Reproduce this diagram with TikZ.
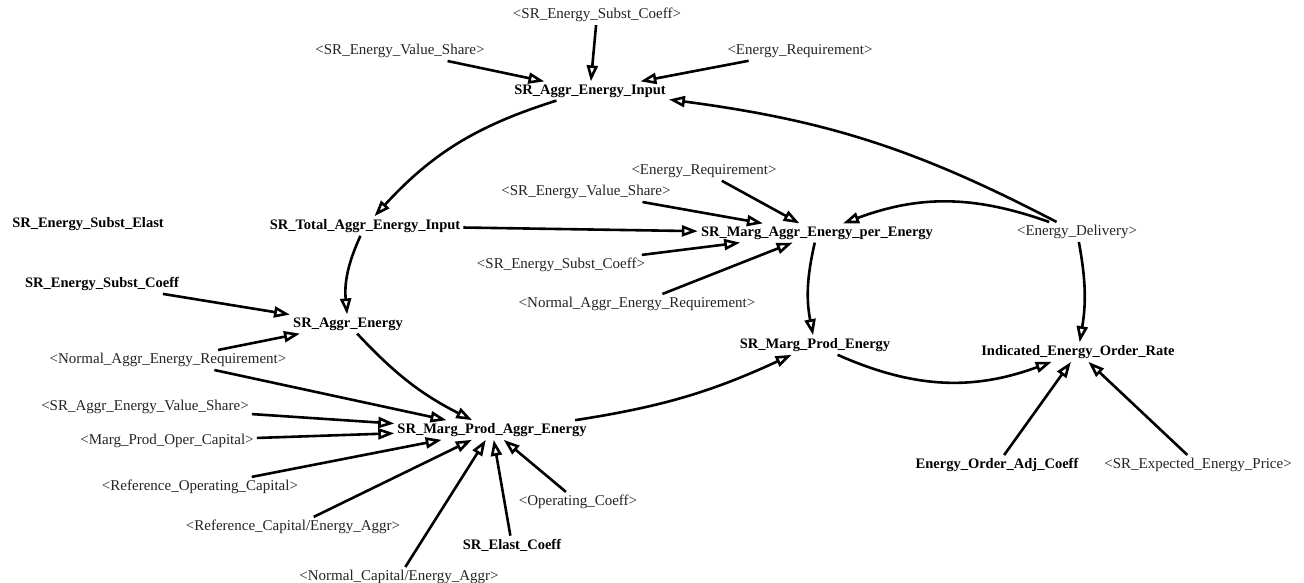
\documentclass[tikz,border=0pt]{standalone}
\usepackage{fontspec}
\setmainfont{Liberation Serif}
\usepackage{tikz}
\usetikzlibrary{arrows.meta}
\definecolor{shadowgray}{RGB}{35,35,35}

\begin{document}
\begin{tikzpicture}[x=1pt, y=-1pt,
    var/.style={font=\fontsize{14.5}{16}\selectfont\bfseries, inner sep=3pt},
    shadow/.style={font=\fontsize{15}{16}\selectfont, text=shadowgray, inner sep=3pt},
    link/.style={line width=2.6pt, -{Triangle[open, length=16pt, width=11pt]}}]
  \useasboundingbox (0,0) rectangle (1304,583);
  % ---- top: aggregate energy input ----
  \node[shadow] (substtop)  at (597,15) {<SR\_Energy\_Subst\_Coeff>};
  \node[shadow] (vsharetop) at (400,51) {<SR\_Energy\_Value\_Share>};
  \node[shadow] (ereqtop)   at (800,51) {<Energy\_Requirement>};
  \node[var]    (aggrinput) at (590,91) {SR\_Aggr\_Energy\_Input};
  % ---- middle band ----
  \node[var]    (elast)      at (88,224)  {SR\_Energy\_Subst\_Elast};
  \node[var]    (totalinput) at (365,226) {SR\_Total\_Aggr\_Energy\_Input};
  \node[shadow] (ereqmid)    at (704,171) {<Energy\_Requirement>};
  \node[shadow] (vsharemid)  at (586,192) {<SR\_Energy\_Value\_Share>};
  \node[var]    (margaggr)   at (817,233) {SR\_Marg\_Aggr\_Energy\_per\_Energy};
  \node[shadow] (delivery)   at (1077,232) {<Energy\_Delivery>};
  \node[shadow] (substmid)   at (561,265) {<SR\_Energy\_Subst\_Coeff>};
  \node[shadow] (normreqmid) at (637,304) {<Normal\_Aggr\_Energy\_Requirement>};
  \node[var]    (substcoeff) at (102,284) {SR\_Energy\_Subst\_Coeff};
  \node[var]    (aggrenergy) at (348,324) {SR\_Aggr\_Energy};
  \node[shadow] (normreqleft) at (168,360) {<Normal\_Aggr\_Energy\_Requirement>};
  \node[var]    (margprod)   at (815,345) {SR\_Marg\_Prod\_Energy};
  \node[var]    (indicated)  at (1078,352) {Indicated\_Energy\_Order\_Rate};
  % ---- bottom: marginal product of aggregate energy ----
  \node[shadow] (avshare)    at (145,407) {<SR\_Aggr\_Energy\_Value\_Share>};
  \node[shadow] (mpoc)       at (167,441) {<Marg\_Prod\_Oper\_Capital>};
  \node[var]    (margprodaggr) at (492,430) {SR\_Marg\_Prod\_Aggr\_Energy};
  \node[shadow] (refopcap)   at (200,487) {<Reference\_Operating\_Capital>};
  \node[shadow] (refcap)     at (293,527) {<Reference\_Capital/Energy\_Aggr>};
  \node[var]    (elastcoeff) at (512,545) {SR\_Elast\_Coeff};
  \node[shadow] (opcoeff)    at (578,502) {<Operating\_Coeff>};
  \node[shadow] (normcap)    at (399,577) {<Normal\_Capital/Energy\_Aggr>};
  \node[var]    (adjcoeff)   at (997,465) {Energy\_Order\_Adj\_Coeff};
  \node[shadow] (exprice)    at (1198,465) {<SR\_Expected\_Energy\_Price>};
  % ---- links ----
  \draw[link] (substtop) -- (aggrinput);
  \draw[link] (vsharetop) -- (aggrinput);
  \draw[link] (ereqtop) -- (aggrinput);
  \draw[link] (delivery) to[bend right=10] (aggrinput);
  \draw[link] (aggrinput) to[bend right=15] (totalinput);
  \draw[link] (totalinput) -- (margaggr);
  \draw[link] (totalinput) to[bend right=15] (aggrenergy);
  \foreach \src in {ereqmid,vsharemid,substmid,normreqmid}
    \draw[link] (\src) -- (margaggr);
  \draw[link] (delivery) to[bend right=20] (margaggr);
  \draw[link] (delivery) to[bend left=10] (indicated);
  \draw[link] (margaggr) to[bend right=12] (margprod);
  \draw[link] (substcoeff) -- (aggrenergy);
  \draw[link] (normreqleft) -- (aggrenergy);
  \draw[link] (aggrenergy) to[bend right=10] (margprodaggr);
  \draw[link] (margprodaggr) to[bend right=8] (margprod);
  \draw[link] (margprod) to[bend right=22] (indicated);
  \foreach \src in {normreqleft,avshare,mpoc,refopcap,refcap,normcap,elastcoeff,opcoeff}
    \draw[link] (\src) -- (margprodaggr);
  \draw[link] (adjcoeff) -- (indicated);
  \draw[link] (exprice) -- (indicated);
\end{tikzpicture}
\end{document}
